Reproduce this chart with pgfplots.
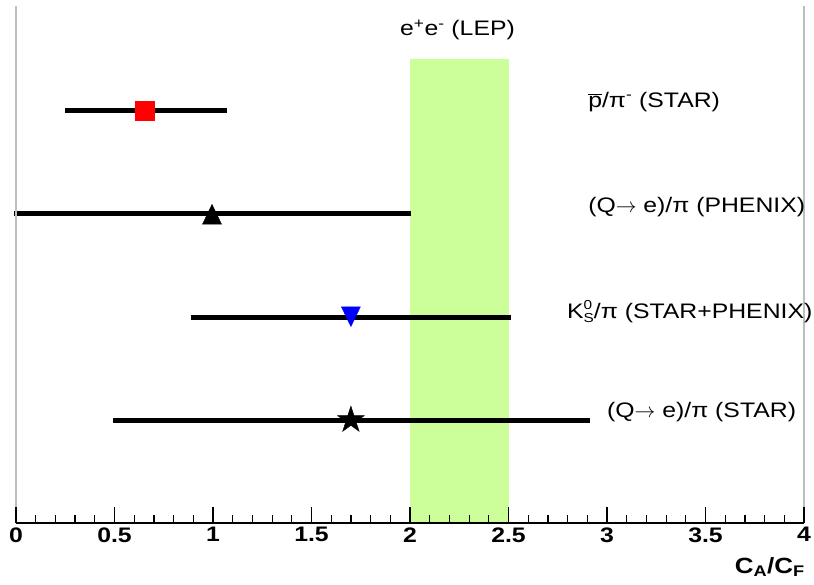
\documentclass[border=0pt]{standalone}
\usepackage{fontspec}
\setmainfont{Liberation Sans}[FakeStretch=1.18]
\usepackage{pgfplots}
\pgfplotsset{compat=1.18}
\definecolor{lepgreen}{RGB}{204,255,153}
\definecolor{framegray}{RGB}{190,190,190}
\pgfdeclareplotmark{fstar}{%
  \pgfpathmoveto{\pgfpointpolar{90}{\pgfplotmarksize}}%
  \pgfpathlineto{\pgfpointpolar{126}{0.382\pgfplotmarksize}}%
  \pgfpathlineto{\pgfpointpolar{162}{\pgfplotmarksize}}%
  \pgfpathlineto{\pgfpointpolar{198}{0.382\pgfplotmarksize}}%
  \pgfpathlineto{\pgfpointpolar{234}{\pgfplotmarksize}}%
  \pgfpathlineto{\pgfpointpolar{270}{0.382\pgfplotmarksize}}%
  \pgfpathlineto{\pgfpointpolar{306}{\pgfplotmarksize}}%
  \pgfpathlineto{\pgfpointpolar{342}{0.382\pgfplotmarksize}}%
  \pgfpathlineto{\pgfpointpolar{18}{\pgfplotmarksize}}%
  \pgfpathlineto{\pgfpointpolar{54}{0.382\pgfplotmarksize}}%
  \pgfpathclose
  \pgfusepathqfillstroke}
\newcommand{\scr}[1]{{\fontsize{13}{13}\selectfont #1}}
\begin{document}
\begin{tikzpicture}
\useasboundingbox (-16pt,-61pt) rectangle (798pt,523pt);
\begin{axis}[
  scale only axis, width=788pt, height=515pt,
  xmin=0, xmax=4, ymin=0, ymax=5,
  axis x line*=bottom, axis y line=none,
  xtick={0,0.5,1,1.5,2,2.5,3,3.5,4}, minor x tick num=4,
  ytick=\empty,
  tick align=inside, major tick length=16pt, minor tick length=8pt,
  x axis line style={line width=1.5pt},
  xtick style={line width=1.2pt, black},
  xticklabel style={font=\fontsize{21}{21}\selectfont\bfseries, yshift=-1pt},
  /pgf/number format/assume math mode=true,
  clip=false, axis on top,
]
% LEP band
\addplot[fill=lepgreen, draw=none] coordinates {(2,4.5) (2.5,4.5)} \closedcycle;
% error bars
\addplot[line width=5pt, black] coordinates {(0.249,4) (1.071,4)};
\addplot[line width=5pt, black] coordinates {(-0.01,3) (2.005,3)};
\addplot[line width=5pt, black] coordinates {(0.888,2) (2.513,2)};
\addplot[line width=5pt, black] coordinates {(0.492,1) (2.914,1)};
% central values
\addplot[only marks, mark=square*, mark size=9.5pt, color=red] coordinates {(0.655,4)};
\addplot[only marks, mark=triangle*, mark size=11pt, color=black, mark options={yscale=1.2, yshift=-3pt}] coordinates {(0.995,3)};
\addplot[only marks, mark=triangle*, mark size=11pt, color=blue, mark options={rotate=180, yscale=1.2, yshift=-3pt}] coordinates {(1.70,2)};
\addplot[only marks, mark=fstar, mark size=14pt, color=black] coordinates {(1.70,1)};
% frame side lines
\draw[framegray, line width=1.3pt] (rel axis cs:0,0) -- (rel axis cs:0,1.004);
\draw[framegray, line width=1.3pt] (rel axis cs:1,0) -- (rel axis cs:1,1.004);
% labels
\begin{scope}[every node/.style={font=\fontsize{21}{24}\selectfont, inner sep=0pt}]
\node at (axis cs:2.241,4.786) {e\textsuperscript{+}e\textsuperscript{-} (LEP)};
\node[anchor=west] at (axis cs:2.904,4.09) {$\overline{\mbox{p}}$/π\textsuperscript{-} (STAR)};
\node[anchor=west] at (axis cs:2.904,3.07) {(Q$\rightarrow$ e)/π (PHENIX)};
\node[anchor=west] at (axis cs:2.797,2.05) {K\rlap{\raisebox{8.6pt}{\scr{0}}}\raisebox{-4pt}{\scr{S}}/π (STAR+PHENIX)};
\node[anchor=west] at (axis cs:3.0,1.08) {(Q$\rightarrow$ e)/π (STAR)};
\end{scope}
\node[anchor=north east, inner sep=0pt, font=\fontsize{22}{22}\selectfont\bfseries] at (rel axis cs:1,0) [yshift=-34pt, xshift=1pt] {C\textsubscript{A}/C\textsubscript{F}};
\end{axis}
\end{tikzpicture}
\end{document}
